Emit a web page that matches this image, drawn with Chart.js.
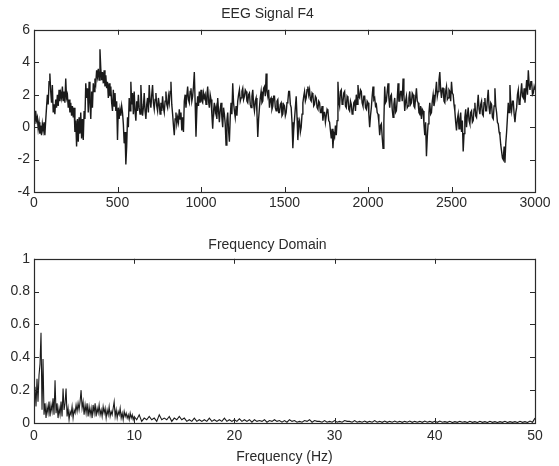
<!DOCTYPE html>
<html>
<head>
<meta charset="utf-8">
<script src="https://cdn.jsdelivr.net/npm/chart.js@4/dist/chart.umd.min.js"></script>
<style>
  html, body { margin: 0; padding: 0; background: #fff; }
  #wrap { position: relative; width: 559px; height: 466px; background: #fff; }
  canvas { position: absolute; left: 0; }
  #c1 { top: 0; }
  #c2 { top: 232px; }
</style>
</head>
<body>
<div id="wrap">
  <canvas id="c1" width="559" height="232"></canvas>
  <canvas id="c2" width="559" height="234"></canvas>
</div>
<script>
// ---------- data ----------
const eegTitle = 'EEG Signal F4';
const eegSampleStep = 5;   // samples between successive readings
const eegValues = [
  0.9, 0.2, 1.0, 0.4, 0.6, -0.1, 0.3, -0.4, 0.1, -0.5, 0.2, -0.2, 0.3, -0.5, 0.4, 1.2, 2.0, 1.4, 2.8, 3.3,
  2.2, 1.5, 2.6, 0.9, 1.4, 0.8, 1.7, 1.2, 2.0, 1.3, 2.3, 1.6, 2.1, 1.8, 2.5, 1.6, 2.2, 1.5, 3.0, 1.8,
  2.0, 1.2, 1.7, 0.9, 1.5, 0.7, 1.3, 0.6, 1.2, -0.3, 0.4, -1.2, 0.5, -0.9, 0.6, -0.4, 0.9, -0.7, 0.5, -0.8,
  1.0, 0.5, 2.7, 1.8, 2.4, 0.9, 2.8, 1.5, 0.5, 2.2, 1.2, 2.7, 2.2, 3.0, 2.7, 3.5, 3.1, 3.6, 2.9, 4.8,
  3.6, 2.9, 3.4, 2.7, 3.5, 2.5, 3.2, 2.4, 2.8, 1.8, 2.7, 1.9, 2.5, 1.5, 1.0, 2.3, 1.3, 2.1, 1.0, 1.6,
  -0.8, 1.2, 0.5, 1.1, 0.7, 1.3, 0.9, 0.2, -1.0, -0.3, -2.3, -1.2, 0.6, 0.0, 1.8, 1.0, 2.8, 1.4, 2.1, 0.8,
  2.2, 1.0, 0.4, 1.6, 1.0, 2.0, 1.2, 0.8, 2.6, 1.4, 0.7, 1.2, 2.1, 1.0, 0.5, 1.4, 1.8, 0.9, 2.6, 1.6,
  1.2, 2.0, 2.6, 1.5, 1.1, 1.7, 2.1, 1.3, 1.0, 1.8, 1.4, 0.8, 1.5, 1.0, 1.9, 1.2, 0.9, 1.6, 2.2, 1.4,
  1.2, 1.9, 1.5, 2.2, 2.8, 1.4, 0.8, 0.1, -0.5, 0.5, 0.9, 0.2, 0.6, 0.3, 1.1, 0.5, 0.9, -0.2, 0.6, -0.3,
  1.6, 2.0, 1.2, 1.9, 2.5, 1.7, 1.5, 2.2, 2.4, 1.6, 1.9, 2.5, 3.4, 1.5, -0.6, 1.0, 1.9, 1.3, 2.2, 1.5,
  2.3, 1.6, 1.5, 2.1, 1.8, 2.0, 1.4, 1.9, 2.5, 1.6, 1.2, 2.0, 1.7, 0.8, -0.1, 1.0, 1.5, 0.9, 1.2, 0.5,
  1.8, 1.0, 0.3, 1.1, 1.5, 0.6, 0.0, 1.2, 0.8, 0.2, -1.1, 0.4, 0.9, -0.2, -0.9, 0.6, 1.5, 0.8, 2.7, 1.5,
  1.0, 0.6, 1.3, 0.7, 1.6, 2.0, 2.3, 1.6, 1.8, 2.2, 2.4, 1.7, 1.9, 2.3, 2.2, 1.6, 1.5, 2.0, 2.1, 1.4,
  1.2, 1.9, 2.3, 1.4, 1.0, 1.6, 1.8, 0.9, -0.6, 0.5, 1.2, 1.8, 2.2, 1.5, 1.6, 2.4, 2.5, 1.9, 3.3, 2.2,
  1.9, 2.3, 1.2, 1.7, 1.8, 1.1, 1.3, 1.9, 1.9, 1.2, 1.0, 1.6, 1.7, 0.9, 0.9, 1.4, 1.5, 0.7, 0.8, 1.4,
  1.3, 0.7, 0.9, 1.5, 1.6, 2.2, 2.2, 1.4, 1.2, 0.3, -1.3, -0.2, 0.5, 1.2, 1.9, 0.6, -0.8, 0.2, 0.4, -0.3,
  0.0, 0.8, 1.5, 1.9, 2.2, 1.6, 1.8, 2.3, 2.5, 2.0, 2.3, 1.7, 1.6, 2.1, 2.0, 1.3, 1.4, 1.9, 1.8, 1.2,
  1.1, 1.6, 1.5, 0.9, 0.9, 1.3, 0.4, 0.9, 0.9, 0.3, 0.7, 1.1, 1.0, 0.4, 0.3, -0.2, -0.7, -0.1, -1.3, -0.4,
  -0.6, 0.1, -0.5, 0.4, 2.8, 1.6, 1.3, 2.2, 2.3, 1.4, 1.5, 2.1, 2.2, 1.3, 1.2, 1.9, 1.8, 1.1, 1.0, 1.6,
  1.4, 0.8, 0.9, 1.5, 1.6, 1.0, 2.0, 1.4, 2.6, 1.9, 1.8, 2.3, 2.2, 1.5, 1.3, 1.9, 1.9, 1.2, 1.1, 1.6,
  1.5, 0.8, 0.0, 0.7, 1.2, 1.9, 2.5, 1.7, 1.8, 1.3, 1.4, 0.9, 0.8, 0.3, -0.5, 0.1, 0.2, -0.6, -1.3, 0.3,
  2.5, 1.5, 1.6, 2.2, 2.7, 1.8, 1.2, 1.9, 2.0, 1.1, 0.6, 1.4, 1.8, 0.9, 1.0, 1.7, 2.7, 1.6, 1.6, 2.2,
  2.2, 1.6, 3.0, 2.0, 1.0, 1.6, 1.9, 1.2, 1.3, 1.8, 2.2, 1.4, 1.5, 2.1, 2.0, 1.3, 1.2, 1.8, 2.4, 1.6,
  1.5, 0.9, 0.8, 1.3, 0.5, 1.1, 1.0, 0.2, -0.5, 0.3, -1.8, -0.6, 0.2, 0.9, 1.5, 0.8, 0.9, 1.6, 2.0, 1.3,
  1.6, 2.2, 2.8, 1.9, 2.2, 2.9, 3.4, 2.3, 1.8, 2.4, 2.4, 1.6, 1.5, 2.2, 2.5, 1.7, 1.8, 2.3, 2.2, 1.6,
  2.8, 2.1, 2.0, 1.4, 1.0, 0.3, -0.2, 0.5, 0.8, -0.1, 0.5, 0.9, -0.3, 0.4, -1.5, -0.4, 0.6, 1.1, 0.0, 0.7,
  1.2, 0.4, 0.2, 0.9, 1.0, 0.3, 0.4, 1.1, 1.5, 0.7, 0.6, 1.3, 2.0, 1.1, 0.8, 1.4, 1.6, 0.8, 0.7, 1.5,
  1.8, 1.0, 1.0, 1.7, 2.3, 1.2, 0.8, 1.5, 1.4, 0.6, 0.5, 1.3, 2.4, 1.3, 0.9, 0.3, 0.2, -0.3, -0.5, -1.1,
  -1.5, -1.9, -2.0, -1.2, -2.2, -1.0, -0.3, 0.6, 1.5, 0.9, 2.6, 1.4, 1.0, 1.6, 1.6, 0.8, 0.3, 0.9, 1.2, 2.0,
  2.3, 1.4, 1.5, 2.1, 2.7, 1.9, 1.8, 2.4, 1.5, 2.2, 2.9, 2.0, 3.5, 2.6, 2.3, 2.8, 2.8, 2.0, 2.1, 2.5,
  2.3
];
const eegXTicks = [0, 500, 1000, 1500, 2000, 2500, 3000];
const eegYTicks = [-4, -2, 0, 2, 4, 6];

const freqTitle = 'Frequency Domain';
const freqAxisTitle = 'Frequency (Hz)';
const lowFreqStep = 0.1;    // Hz, for 0 – 9.9 Hz
const lowFreqAmp = [
  0.12, 0.22, 0.10, 0.27, 0.13, 0.29, 0.36, 0.55, 0.08, 0.39,
  0.05, 0.12, 0.03, 0.10, 0.06, 0.13, 0.04, 0.11, 0.07, 0.15,
  0.05, 0.26, 0.06, 0.12, 0.03, 0.09, 0.05, 0.13, 0.04, 0.21,
  0.08, 0.12, 0.21, 0.04, 0.09, 0.02, 0.07, 0.05, 0.10, 0.03,
  0.08, 0.06, 0.11, 0.07, 0.12, 0.08, 0.13, 0.20, 0.09, 0.13,
  0.05, 0.11, 0.06, 0.12, 0.04, 0.10, 0.05, 0.09, 0.03, 0.11,
  0.06, 0.12, 0.04, 0.09, 0.06, 0.11, 0.05, 0.08, 0.04, 0.10,
  0.06, 0.09, 0.03, 0.08, 0.05, 0.10, 0.04, 0.07, 0.05, 0.09,
  0.13, 0.04, 0.08, 0.03, 0.07, 0.05, 0.09, 0.03, 0.06, 0.02,
  0.07, 0.04, 0.06, 0.03, 0.05, 0.02, 0.06, 0.03, 0.05, 0.02
];
const highFreqStart = 10;   // Hz
const highFreqStep = 0.25;  // Hz, for 10 – 50 Hz
const highFreqAmp = [
  0.04, 0.02, 0.05, 0.01, 0.03, 0.02, 0.04, 0.02, 0.03, 0.01, 0.05, 0.02, 0.03, 0.02, 0.04, 0.01, 0.03, 0.02, 0.04, 0.02,
  0.03, 0.01, 0.02, 0.01, 0.03, 0.01, 0.02, 0.01, 0.02, 0.01, 0.03, 0.01, 0.02, 0.01, 0.02, 0.01, 0.03, 0.01, 0.02, 0.01,
  0.02, 0.01, 0.025, 0.01, 0.02, 0.01, 0.02, 0.005, 0.02, 0.01, 0.015, 0.01, 0.02, 0.005, 0.015, 0.01, 0.02, 0.01, 0.015, 0.005,
  0.015, 0.005, 0.02, 0.01, 0.015, 0.005, 0.01, 0.005, 0.015, 0.01, 0.02, 0.005, 0.015, 0.01, 0.01, 0.005, 0.015, 0.005, 0.01, 0.005,
  0.015, 0.005, 0.01, 0.005, 0.015, 0.01, 0.01, 0.005, 0.015, 0.005, 0.01, 0.005, 0.012, 0.004, 0.01, 0.005, 0.015, 0.005, 0.01, 0.004,
  0.012, 0.004, 0.01, 0.005, 0.012, 0.005, 0.01, 0.004, 0.01, 0.005, 0.012, 0.004, 0.01, 0.005, 0.01, 0.004, 0.012, 0.005, 0.01, 0.004,
  0.01, 0.004, 0.012, 0.005, 0.008, 0.004, 0.01, 0.003, 0.008, 0.004, 0.01, 0.005, 0.008, 0.003, 0.01, 0.004, 0.008, 0.003, 0.01, 0.004,
  0.008, 0.003, 0.01, 0.004, 0.008, 0.003, 0.008, 0.004, 0.01, 0.003, 0.008, 0.004, 0.008, 0.003, 0.01, 0.004, 0.008, 0.003, 0.012, 0.004,
  0.03
];
const freqXTicks = [0, 10, 20, 30, 40, 50];
const freqYTicks = [0, 0.2, 0.4, 0.6, 0.8, 1];

// ---------- build points ----------
const eegPoints = eegValues.map((v, i) => ({ x: i * eegSampleStep, y: v }));
const freqPoints = lowFreqAmp.map((v, i) => ({ x: +(i * lowFreqStep).toFixed(2), y: v }))
  .concat(highFreqAmp.map((v, i) => ({ x: highFreqStart + i * highFreqStep, y: v })));

// ---------- styling ----------
const FONT = "'Liberation Sans', Arial, sans-serif";
const INK = '#2a2a2a';
const LINE = '#1a1a1a';

// Inward MATLAB-style ticks on all four sides + box
const boxTicks = {
  id: 'boxTicks',
  afterDraw(chart) {
    const { ctx, chartArea: a, scales } = chart;
    const len = 5;
    ctx.save();
    ctx.strokeStyle = INK;
    ctx.lineWidth = 1;
    ctx.beginPath();
    scales.x.ticks.forEach(t => {
      const px = Math.round(scales.x.getPixelForValue(t.value)) + 0.5;
      ctx.moveTo(px, a.bottom); ctx.lineTo(px, a.bottom - len);
      ctx.moveTo(px, a.top); ctx.lineTo(px, a.top + len);
    });
    scales.y.ticks.forEach(t => {
      const py = Math.round(scales.y.getPixelForValue(t.value)) + 0.5;
      ctx.moveTo(a.left, py); ctx.lineTo(a.left + len, py);
      ctx.moveTo(a.right, py); ctx.lineTo(a.right - len, py);
    });
    ctx.stroke();
    ctx.lineWidth = 1.2;
    ctx.strokeRect(Math.round(a.left) + 0.5, Math.round(a.top) + 0.5,
                   Math.round(a.right - a.left), Math.round(a.bottom - a.top));
    ctx.restore();
  }
};

function makeChart(canvasId, cfg) {
  return new Chart(document.getElementById(canvasId), {
    type: 'line',
    data: {
      datasets: [{
        data: cfg.points,
        borderColor: LINE,
        borderWidth: cfg.lineWidth,
        pointRadius: 0,
        tension: 0,
        fill: false
      }]
    },
    options: {
      responsive: false,
      animation: false,
      events: [],
      layout: { padding: { left: 0, right: 24, top: 0, bottom: 0 } },
      plugins: {
        legend: { display: false },
        tooltip: { enabled: false },
        title: {
          display: true,
          text: cfg.title,
          color: INK,
          font: { family: FONT, size: 14, weight: 'normal' },
          padding: cfg.titlePad
        }
      },
      scales: {
        x: {
          type: 'linear',
          min: cfg.xTicks[0],
          max: cfg.xTicks[cfg.xTicks.length - 1],
          grid: { display: false, drawTicks: false },
          border: { display: false },
          afterBuildTicks: s => { s.ticks = cfg.xTicks.map(v => ({ value: v })); },
          afterFit: s => { s.height = cfg.xHeight; },
          ticks: {
            color: INK,
            padding: cfg.xTickPad,
            maxRotation: 0,
            autoSkip: false,
            font: { family: FONT, size: 14 },
            callback: v => String(v)
          },
          title: cfg.xTitle ? {
            display: true,
            text: cfg.xTitle,
            color: INK,
            font: { family: FONT, size: 14 },
            padding: { top: 0, bottom: 0 }
          } : { display: false }
        },
        y: {
          type: 'linear',
          min: cfg.yTicks[0],
          max: cfg.yTicks[cfg.yTicks.length - 1],
          grid: { display: false, drawTicks: false },
          border: { display: false },
          afterBuildTicks: s => { s.ticks = cfg.yTicks.map(v => ({ value: v })); },
          afterFit: s => { s.width = 34; },
          ticks: {
            color: INK,
            padding: 4,
            autoSkip: false,
            font: { family: FONT, size: 14 },
            callback: v => String(v)
          }
        }
      }
    },
    plugins: [boxTicks]
  });
}

makeChart('c1', {
  points: eegPoints, title: eegTitle, lineWidth: 1.4,
  titlePad: { top: 6, bottom: 7 },
  xTicks: eegXTicks, yTicks: eegYTicks, xHeight: 40, xTickPad: 3,
  xTitle: null
});
makeChart('c2', {
  points: freqPoints, title: freqTitle, lineWidth: 1.1,
  titlePad: { top: 5, bottom: 5 },
  xTicks: freqXTicks, yTicks: freqYTicks, xHeight: 43, xTickPad: 5,
  xTitle: freqAxisTitle
});
</script>
</body>
</html>
